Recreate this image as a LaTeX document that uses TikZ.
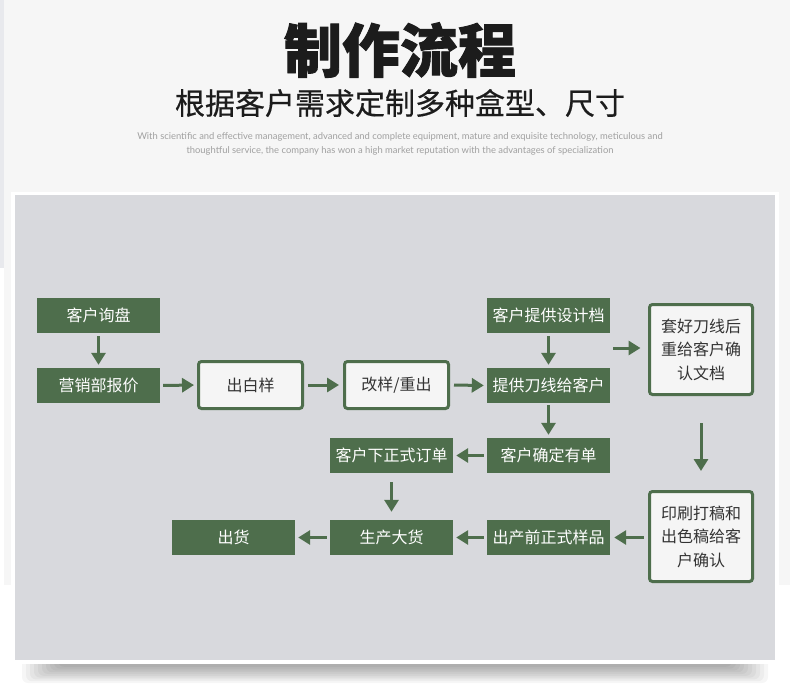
\documentclass[tikz,border=0pt]{standalone}
\usepackage{fontspec}
\usetikzlibrary{arrows.meta}
\newfontfamily\cjk{Noto Sans CJK SC}
\newfontfamily\cjkheavy{Noto Sans CJK SC}[BoldFeatures={FakeBold=1.5}]
\newfontfamily\cjkmed{Noto Sans CJK SC}[FakeBold=0.5]
\newfontfamily\enfont{Lato}
\definecolor{flowgreen}{HTML}{4E6E4C}
\definecolor{panelgray}{HTML}{D8D9DD}
\definecolor{pagebg}{HTML}{F6F6F6}
\definecolor{stripgray}{HTML}{E8E9ED}
\definecolor{boxwhite}{HTML}{F5F5F5}
\definecolor{titleblack}{HTML}{1C1C1C}
\definecolor{engray}{HTML}{A0A0A0}
\definecolor{boxtext}{HTML}{333333}
\tikzset{
  gbox/.style={fill=flowgreen, text=white, minimum width=123pt, minimum height=35pt,
    inner sep=0pt, font=\cjk\fontsize{16}{19}\selectfont},
  wbox/.style={fill=boxwhite, draw=flowgreen, line width=3pt, rounded corners=3pt,
    text=boxtext, inner sep=0pt, align=center, font=\cjk\fontsize{16}{23.5}\selectfont},
  arr/.style={draw=flowgreen, line width=3pt, -{Triangle[width=14pt,length=12pt]}},
  shadowlayer/.style={fill=black, opacity=0.035, rounded corners=6pt},
}
\begin{document}
\begin{tikzpicture}[x=1pt,y=-1pt]
\useasboundingbox (0,0) rectangle (790,686);
% page background
\fill[white] (0,0) rectangle (790,686);
\fill[pagebg] (4,0) rectangle (790,585);
\fill[stripgray] (0,0) rectangle (4,268);
% headings
\node[text=titleblack, font=\cjkheavy\bfseries\fontsize{58}{60}\selectfont, inner sep=0pt] (title) at (400,50) {制作流程};
\node[text=titleblack, font=\cjkmed\fontsize{30}{32}\selectfont, inner sep=0pt] (subtitle) at (400,103) {根据客户需求定制多种盒型、尺寸};
\node[text=engray, font=\enfont\fontsize{9.4}{14}\selectfont, align=center, inner sep=0pt] (entext) at (400,144)
  {With scientific and effective management, advanced and complete equipment, mature and exquisite technology, meticulous and\\
   thoughtful service, the company has won a high market reputation with the advantages of specialization};
% panel shadow (stacked soft layers)
\foreach \k in {0,...,9}{
  \fill[shadowlayer] (22+\k*4,650) rectangle (768-\k*4,683-\k*1.8);
}
% panel
\fill[white] (11,192) rectangle (779,664);
\fill[panelgray] (15,195) rectangle (775,660);
% nodes
\node[gbox] (inq) at (98.5,315.5) {客户询盘};
\node[gbox] (quote) at (98.5,385.5) {营销部报价};
\node[wbox, minimum width=104pt, minimum height=47pt] (sample) at (250.5,385) {出白样};
\node[wbox, minimum width=104pt, minimum height=47pt] (resample) at (396.5,385) {改样/重出};
\node[gbox] (design) at (548.5,315.5) {客户提供设计档};
\node[gbox] (dieline) at (548.5,385.5) {提供刀线给客户};
\node[wbox, minimum width=103pt, minimum height=90pt] (confirmdoc) at (701,349.5) {套好刀线后\\重给客户确\\认文档};
\node[gbox] (order) at (548.5,455.5) {客户确定有单};
\node[gbox] (formal) at (391.5,455.5) {客户下正式订单};
\node[wbox, minimum width=103pt, minimum height=90pt] (proof) at (701,536.5) {印刷打稿和\\出色稿给客\\户确认};
\node[gbox] (preprod) at (548.5,537.5) {出产前正式样品};
\node[gbox] (mass) at (391.5,537.5) {生产大货};
\node[gbox] (ship) at (233.5,537.5) {出货};
\coordinate (midright) at (613,348);
% connectors
\draw[arr, shorten <=3pt, shorten >=3pt] (inq.south) -- (quote.north);
\draw[arr, shorten <=3pt, shorten >=3pt] (quote.east) -- (sample.west);
\draw[arr, shorten <=4pt, shorten >=4pt] (sample.east) -- (resample.west);
\draw[arr, shorten <=4pt, shorten >=3pt] (resample.east) -- (dieline.west);
\draw[arr, shorten <=3pt, shorten >=3pt] (design.south) -- (dieline.north);
\draw[arr, shorten >=7.5pt] (midright) -- (midright -| confirmdoc.west);
\draw[arr, shorten <=2pt, shorten >=3pt] (dieline.south) -- (order.north);
\draw[arr, shorten <=27pt, shorten >=19pt] (confirmdoc.south) -- (proof.north);
\draw[arr, shorten <=3pt, shorten >=3pt] (order.west) -- (formal.east);
\draw[arr, shorten <=9pt, shorten >=8pt] (formal.south) -- (mass.north);
\draw[arr, shorten <=4.5pt, shorten >=4pt] (proof.west |- preprod.west) -- (preprod.east);
\draw[arr, shorten <=3pt, shorten >=3pt] (preprod.west) -- (mass.east);
\draw[arr, shorten <=3pt, shorten >=3pt] (mass.west) -- (ship.east);
\end{tikzpicture}
\end{document}
